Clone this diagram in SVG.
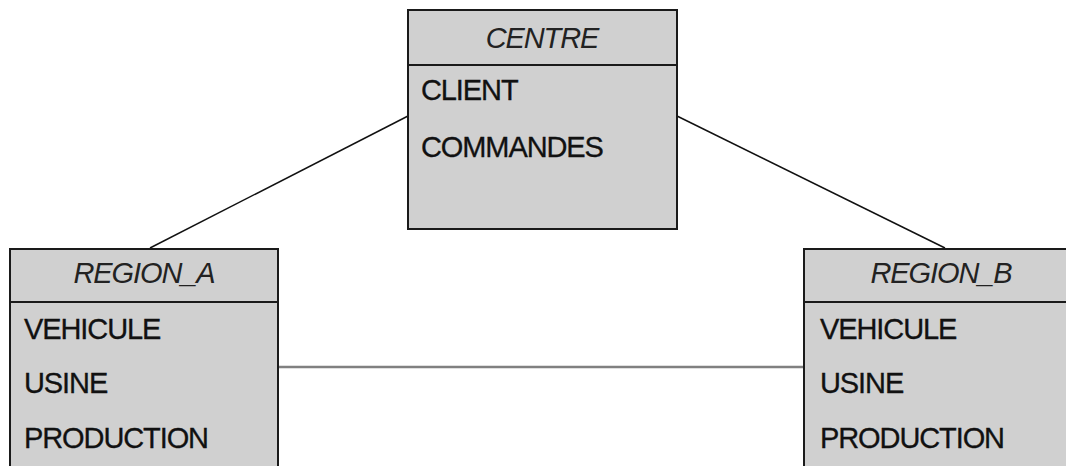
<svg xmlns="http://www.w3.org/2000/svg" width="1066" height="466" viewBox="0 0 1066 466">
<style>
.box{fill:#d0d0d0;stroke:#1a1a1a;stroke-width:2}
.div{stroke:#1a1a1a;stroke-width:2}
.t{font-family:"Liberation Sans",Arial,sans-serif;font-size:29px;fill:#111;letter-spacing:-1.1px;stroke:#111;stroke-width:0.3}
.h{font-style:italic;text-anchor:middle;fill:#222;stroke:none}
.c{stroke:#111;stroke-width:1.5;fill:none}
.c2{stroke:#808080;stroke-width:2.5;fill:none}
</style>
<rect width="1066" height="466" fill="#fff"/>
<g id="connectors">
<line class="c" x1="150" y1="248" x2="408" y2="116"/>
<line class="c" x1="677" y1="116" x2="945" y2="248"/>
<line class="c2" x1="278" y1="367" x2="804" y2="367"/>
</g>
<g id="centre">
<rect class="box" x="408" y="10" width="269" height="219"/>
<line class="div" x1="408" y1="65" x2="677" y2="65"/>
<text class="t h" x="542" y="48">CENTRE</text>
<text class="t" x="421" y="100">CLIENT</text>
<text class="t" x="421" y="157">COMMANDES</text>
</g>
<g id="region_a">
<rect class="box" x="10" y="249" width="268" height="230"/>
<line class="div" x1="10" y1="302" x2="278" y2="302"/>
<text class="t h" x="144" y="283">REGION_A</text>
<text class="t" x="24" y="339">VEHICULE</text>
<text class="t" x="24" y="393">USINE</text>
<text class="t" x="24" y="448">PRODUCTION</text>
</g>
<g id="region_b">
<rect class="box" x="804" y="249" width="274" height="230"/>
<line class="div" x1="804" y1="302" x2="1078" y2="302"/>
<text class="t h" x="941" y="283">REGION_B</text>
<text class="t" x="820" y="339">VEHICULE</text>
<text class="t" x="820" y="393">USINE</text>
<text class="t" x="820" y="448">PRODUCTION</text>
</g>
</svg>
